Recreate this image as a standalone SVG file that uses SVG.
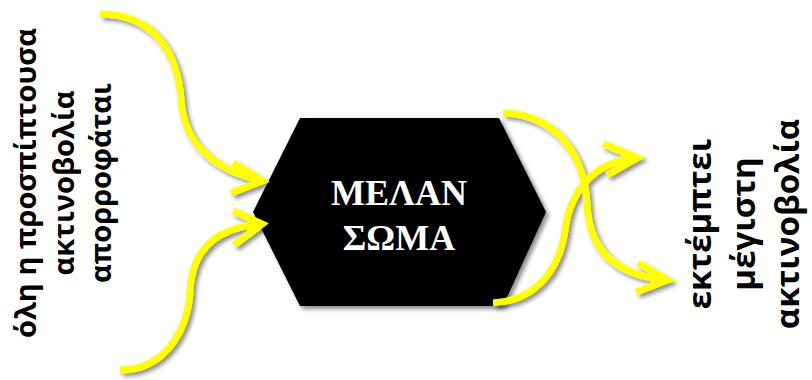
<svg xmlns="http://www.w3.org/2000/svg" width="812" height="380" viewBox="0 0 812 380">
<defs>
<filter id="sh" x="-20%" y="-20%" width="140%" height="140%">
<feDropShadow dx="3" dy="3" stdDeviation="2" flood-color="#000" flood-opacity="0.45"/>
</filter>
</defs>
<style>
.arr{fill:none;stroke:#FFFF00;stroke-width:7;stroke-linecap:butt;stroke-linejoin:miter}
.lbl{font-family:"Open Sans","Noto Sans","DejaVu Sans",sans-serif;font-weight:700;fill:#000;text-anchor:middle}
.hx{font-family:"Liberation Serif","Times New Roman",serif;font-weight:700;font-size:36px;fill:#fff;text-anchor:middle}
</style>
<g id="body">
<polygon points="300,118 499,118 546,212 503,306 300,306 253,212" fill="#000" filter="url(#sh)"/>
<text class="hx" x="399" y="205">ΜΕΛΑΝ</text>
<text class="hx" x="399" y="250">ΣΩΜΑ</text>
</g>
<g id="label-left">
<text class="lbl" font-size="29" transform="translate(36,183) rotate(-90)"><tspan x="0" y="0">όλη η προσπίπτουσα</tspan><tspan x="0" y="37.5">ακτινοβολία</tspan><tspan x="0" y="75">απορροφάται</tspan></text>
</g>
<g id="label-right">
<text class="lbl" font-size="33" transform="translate(711,224) rotate(-90)"><tspan x="0" y="0">εκτέμπτει</tspan><tspan x="0" y="44">μέγιστη</tspan><tspan x="0" y="88">ακτινοβολία</tspan></text>
</g>
<g id="connectors" filter="url(#sh)">
<path class="arr" d="M100,14 C155,14 178,55 181,100 C184,145 215,170 260,180"/>
<polyline class="arr" points="233,163 262,181 231,193"/>
<path class="arr" d="M120,370 C165,370 188,330 190,290 C192,250 215,228 260,224"/>
<polyline class="arr" points="233,211 262,224 234,245"/>
<path class="arr" d="M503,113 C560,115 585,160 587,205 C589,250 615,275 665,280"/>
<polyline class="arr" points="638,263 667,280 636,292"/>
<path class="arr" d="M493,303 C540,300 560,265 565,230 C570,190 595,162 634,158"/>
<polyline class="arr" points="603,144 637,158 607,175"/>
</g>
</svg>
